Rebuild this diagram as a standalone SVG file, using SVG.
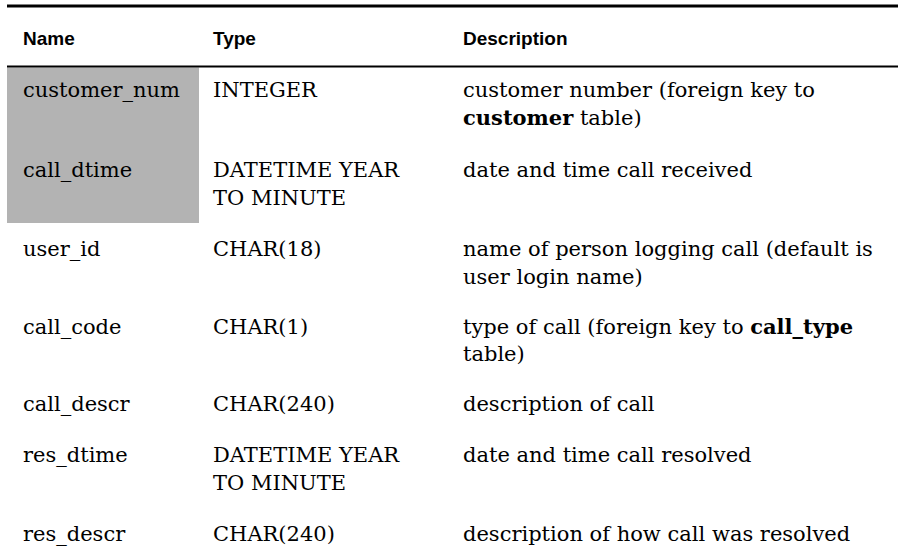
<svg xmlns="http://www.w3.org/2000/svg" width="898" height="559" viewBox="0 0 898 559">
  <style>
    .hd { font-family: "Liberation Sans", Arial, sans-serif; font-weight: bold; font-size: 19px; fill: #000; }
    .tx { font-family: "DejaVu Serif", "Liberation Serif", serif; font-size: 21px; fill: #000; }
    .b { font-weight: bold; }
    .rule { stroke: #000; }
  </style>
  <rect width="898" height="559" fill="#fff"/>
  <!-- shaded primary-key cells -->
  <rect x="7" y="67.5" width="192" height="155.5" fill="#b3b3b3"/>
  <!-- table rules -->
  <line class="rule" x1="7" y1="6" x2="898" y2="6" stroke-width="3"/>
  <line class="rule" x1="7" y1="66.5" x2="898" y2="66.5" stroke-width="2"/>
  <g id="header">
    <text class="hd" x="23" y="45">Name</text>
    <text class="hd" x="213" y="45">Type</text>
    <text class="hd" x="463" y="45">Description</text>
  </g>
  <g id="row-customer_num">
    <text class="tx" x="23" y="97">customer_num</text>
    <text class="tx" x="213" y="97">INTEGER</text>
    <text class="tx" x="463" y="97">customer number (foreign key to</text>
    <text class="tx" x="463" y="124.5"><tspan class="b">customer</tspan> table)</text>
  </g>
  <g id="row-call_dtime">
    <text class="tx" x="23" y="177">call_dtime</text>
    <text class="tx" x="213" y="177">DATETIME YEAR</text>
    <text class="tx" x="213" y="204.5">TO MINUTE</text>
    <text class="tx" x="463" y="177">date and time call received</text>
  </g>
  <g id="row-user_id">
    <text class="tx" x="23" y="256">user_id</text>
    <text class="tx" x="213" y="256">CHAR(18)</text>
    <text class="tx" x="463" y="256">name of person logging call (default is</text>
    <text class="tx" x="463" y="283.5">user login name)</text>
  </g>
  <g id="row-call_code">
    <text class="tx" x="23" y="333.5">call_code</text>
    <text class="tx" x="213" y="333.5">CHAR(1)</text>
    <text class="tx" x="463" y="333.5">type of call (foreign key to <tspan class="b">call_type</tspan></text>
    <text class="tx" x="463" y="361">table)</text>
  </g>
  <g id="row-call_descr">
    <text class="tx" x="23" y="411">call_descr</text>
    <text class="tx" x="213" y="411">CHAR(240)</text>
    <text class="tx" x="463" y="411">description of call</text>
  </g>
  <g id="row-res_dtime">
    <text class="tx" x="23" y="462">res_dtime</text>
    <text class="tx" x="213" y="462">DATETIME YEAR</text>
    <text class="tx" x="213" y="489.5">TO MINUTE</text>
    <text class="tx" x="463" y="462">date and time call resolved</text>
  </g>
  <g id="row-res_descr">
    <text class="tx" x="23" y="540.5">res_descr</text>
    <text class="tx" x="213" y="540.5">CHAR(240)</text>
    <text class="tx" x="463" y="540.5">description of how call was resolved</text>
  </g>
</svg>
